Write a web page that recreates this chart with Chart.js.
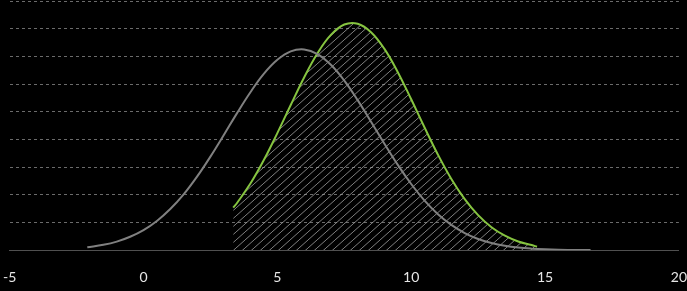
<!DOCTYPE html>
<html>
<head>
<meta charset="utf-8">
<script src="https://cdn.jsdelivr.net/npm/chart.js@4.4.1/dist/chart.umd.min.js"></script>
<style>
  html, body { margin: 0; padding: 0; background: #000; overflow: hidden; width: 687px; height: 291px; }
  /* wider than the window and shifted left, so the end labels run off the edges like the original */
  #wrap { width: 722px; height: 291px; position: relative; margin-left: -16px; }
</style>
</head>
<body>
<div id="wrap"><canvas id="distChart"></canvas></div>
<script>
// ===============================
// DATA
// ===============================
const grayX = [-2.1, -1.5, -1, -0.5, 0, 0.5, 1, 1.5, 2, 2.5, 3, 3.5, 4, 4.5, 5, 5.5, 6, 6.5, 7, 7.5, 8, 8.5, 9, 9.5, 10, 10.5, 11, 11.5, 12, 12.5, 13, 13.5, 14, 14.5, 15, 15.5, 16, 16.7];
const grayY = [0.0021, 0.0039, 0.0062, 0.0097, 0.0145, 0.0211, 0.0297, 0.0403, 0.0531, 0.0676, 0.0832, 0.0992, 0.1143, 0.1275, 0.1375, 0.1436, 0.1450, 0.1417, 0.1339, 0.1225, 0.1084, 0.0928, 0.0769, 0.0616, 0.0478, 0.0358, 0.0260, 0.0183, 0.0124, 0.0081, 0.0052, 0.0032, 0.0019, 0.0011, 0.0006, 0.0003, 0.0002, 0.0001];

const greenX = [3.35, 3.5, 4, 4.5, 5, 5.5, 6, 6.5, 7, 7.5, 8, 8.5, 9, 9.5, 10, 10.5, 11, 11.5, 12, 12.5, 13, 13.5, 14, 14.5, 14.7];
const greenY = [0.0307, 0.0343, 0.0483, 0.0653, 0.0846, 0.1049, 0.1248, 0.1423, 0.1555, 0.1630, 0.1636, 0.1575, 0.1454, 0.1286, 0.1090, 0.0886, 0.0690, 0.0515, 0.0369, 0.0253, 0.0166, 0.0105, 0.0063, 0.0037, 0.0025];

const xTicks = [-5, 0, 5, 10, 15, 20];
const yMax = 0.18;
const yStep = 0.02;

// ===============================
// HATCH PATTERN
// ===============================
function makeHatch() {
    const c = document.createElement('canvas');
    c.width = 9; c.height = 8;
    const g = c.getContext('2d');
    g.strokeStyle = 'rgba(170,170,170,0.75)';
    g.lineWidth = 1;
    g.beginPath();
    g.moveTo(0, 8); g.lineTo(9, 0);
    g.stroke();
    return g.createPattern(c, 'repeat');
}

const toPoints = (xs, ys) => xs.map((x, i) => ({ x: x, y: ys[i] }));

// ===============================
// INIT
// ===============================
const ctx = document.getElementById('distChart').getContext('2d');
const chart = new Chart(ctx, {
    type: 'line',
    data: {
        datasets: [
            {
                label: 'gray',
                data: toPoints(grayX, grayY),
                borderColor: '#808080',
                borderWidth: 2,
                pointRadius: 0,
                tension: 0.4,
                fill: false
            },
            {
                label: 'green',
                data: toPoints(greenX, greenY),
                borderColor: '#86c440',
                borderWidth: 2,
                pointRadius: 0,
                tension: 0.4,
                fill: 'origin',
                backgroundColor: makeHatch()
            }
        ]
    },
    options: {
        responsive: true,
        maintainAspectRatio: false,
        animation: false,
        layout: { padding: { top: 1, bottom: -14 } },
        plugins: {
            legend: { display: false },
            tooltip: { enabled: false },
            filler: { drawTime: 'beforeDatasetsDraw' }
        },
        scales: {
            x: {
                type: 'linear',
                min: -5,
                max: 20,
                afterBuildTicks: (scale) => { scale.ticks = xTicks.map(v => ({ value: v })); },
                grid: { display: false, drawTicks: false },
                border: { display: true, color: '#505050', width: 1 },
                ticks: { color: '#e6e6e6', padding: 19, font: { family: 'Lato', size: 14 } }
            },
            y: {
                min: 0,
                max: yMax,
                ticks: { display: false, stepSize: yStep },
                grid: {
                    drawTicks: false,
                    color: (c) => c.tick && c.tick.value === 0 ? 'rgba(0,0,0,0)' : 'rgba(255,255,255,0.42)'
                },
                border: { display: false, dash: [3, 3] }
            }
        }
    }
});
</script>
</body>
</html>
